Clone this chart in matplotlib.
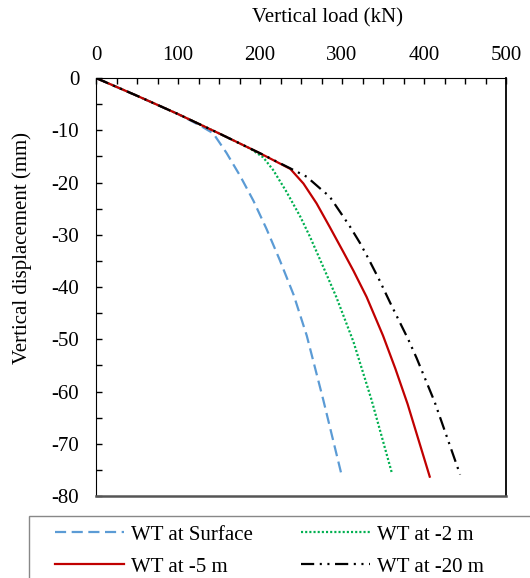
import matplotlib
matplotlib.use("Agg")
import matplotlib.pyplot as plt
from matplotlib.patches import Rectangle
from matplotlib.ticker import MultipleLocator

plt.rcParams['font.family'] = ['Liberation Serif', 'DejaVu Serif']
plt.rcParams['lines.scale_dashes'] = False
plt.rcParams['axes.unicode_minus'] = False

# Data (load kN, displacement mm)
surface_load = [0, 50, 100, 127, 143, 159, 176, 192, 208, 224, 241, 257, 277, 300]
surface_disp = [0, -3.4, -6.9, -9.1, -10.6, -14.3, -18.8, -23.5, -28.9, -34.8, -41.5, -49.3, -61.5, -76.3]

wt2_load = [0, 50, 100, 150, 188, 204, 216, 232, 249, 261, 277, 293, 314, 336, 361]
wt2_disp = [0, -3.4, -6.9, -10.6, -13.5, -15.2, -17.6, -21.7, -26.5, -30.4, -36.1, -41.9, -50.5, -61.6, -75.7]

wt5_load = [0, 50, 100, 150, 200, 237, 253, 269, 285, 302, 314, 330, 350, 365, 380, 407]
wt5_disp = [0, -3.4, -6.9, -10.6, -14.4, -17.4, -20.2, -24.0, -28.5, -33.4, -36.9, -41.9, -49.3, -55.6, -62.4, -76.3]

wt20_load = [0, 50, 100, 150, 200, 237, 257, 273, 285, 310, 322, 332, 346, 359, 381, 391, 413, 444]
wt20_disp = [0, -3.4, -6.9, -10.6, -14.4, -17.3, -18.9, -21.1, -22.7, -28.5, -31.6, -34.5, -38.8, -43.1, -50.1, -53.6, -62.0, -75.9]

labels = ['WT at Surface', 'WT at -2 m', 'WT at -5 m', 'WT at -20 m']
x_ticks = [0, 100, 200, 300, 400, 500]
y_ticks = [0, -10, -20, -30, -40, -50, -60, -70, -80]

W, H = 530, 578
fig = plt.figure(figsize=(W / 100, H / 100), dpi=100)
ax = fig.add_axes([96 / W, 1 - 496 / H, (506 - 96) / W, (496 - 78) / H])

lw = 1.6
l1, = ax.plot(surface_load, surface_disp, color='#5B9BD5', lw=lw, dashes=(8, 4), label=labels[0])
l2, = ax.plot(wt2_load, wt2_disp, color='#00B050', lw=lw, dashes=(1.5, 1.5), label=labels[1])
l3, = ax.plot(wt5_load, wt5_disp, color='#C00000', lw=lw, label=labels[2])
l4, = ax.plot(wt20_load, wt20_disp, color='black', lw=lw, dashes=(9.5, 4, 1.5, 4, 1.5, 4), label=labels[3])

ax.set_xlim(0, 500)
ax.set_ylim(-80, 0)
ax.xaxis.set_ticks_position('top')
ax.xaxis.set_label_position('top')
ax.set_xticks(x_ticks)
ax.set_yticks(y_ticks)
ax.xaxis.set_minor_locator(MultipleLocator(25))
ax.yaxis.set_minor_locator(MultipleLocator(5))
ax.tick_params(axis='x', which='both', direction='in', length=4, width=1, pad=9, labelsize=15)
ax.tick_params(axis='y', which='both', direction='in', length=4, width=1, pad=12, labelsize=15)
ax.set_xlabel('Vertical load (kN)', fontsize=15)
ax.set_ylabel('Vertical displacement (mm)', fontsize=15)
ax.xaxis.set_label_coords((327 - 96) / 410, (496 - 18) / 418)
ax.yaxis.set_label_coords((22 - 96) / 410, (496 - 248) / 418)
ax.xaxis.label.set_va('center')
ax.yaxis.label.set_va('center')

ax.spines['top'].set_color('black')
ax.spines['left'].set_color('black')
ax.spines['right'].set_color('black')
ax.spines['right'].set_linewidth(1.3)
ax.spines['bottom'].set_color('#555555')
ax.spines['bottom'].set_linewidth(1.8)

# legend frame
fig.patches.append(Rectangle((29 / W, 1 - 590 / H), (540 - 29) / W, (590 - 516) / H,
                             transform=fig.transFigure, facecolor='white',
                             edgecolor='#888888', lw=1.0, zorder=0))
leg = fig.legend(handles=[l1, l3, l2, l4], ncol=2, loc='upper left',
                 bbox_to_anchor=(55 / W, 1 - 525 / H), frameon=False,
                 fontsize=15, handlelength=3.3, handletextpad=0.35,
                 columnspacing=2.3, labelspacing=0.6, borderaxespad=0, borderpad=0)

fig.savefig('out.png', dpi=100)
